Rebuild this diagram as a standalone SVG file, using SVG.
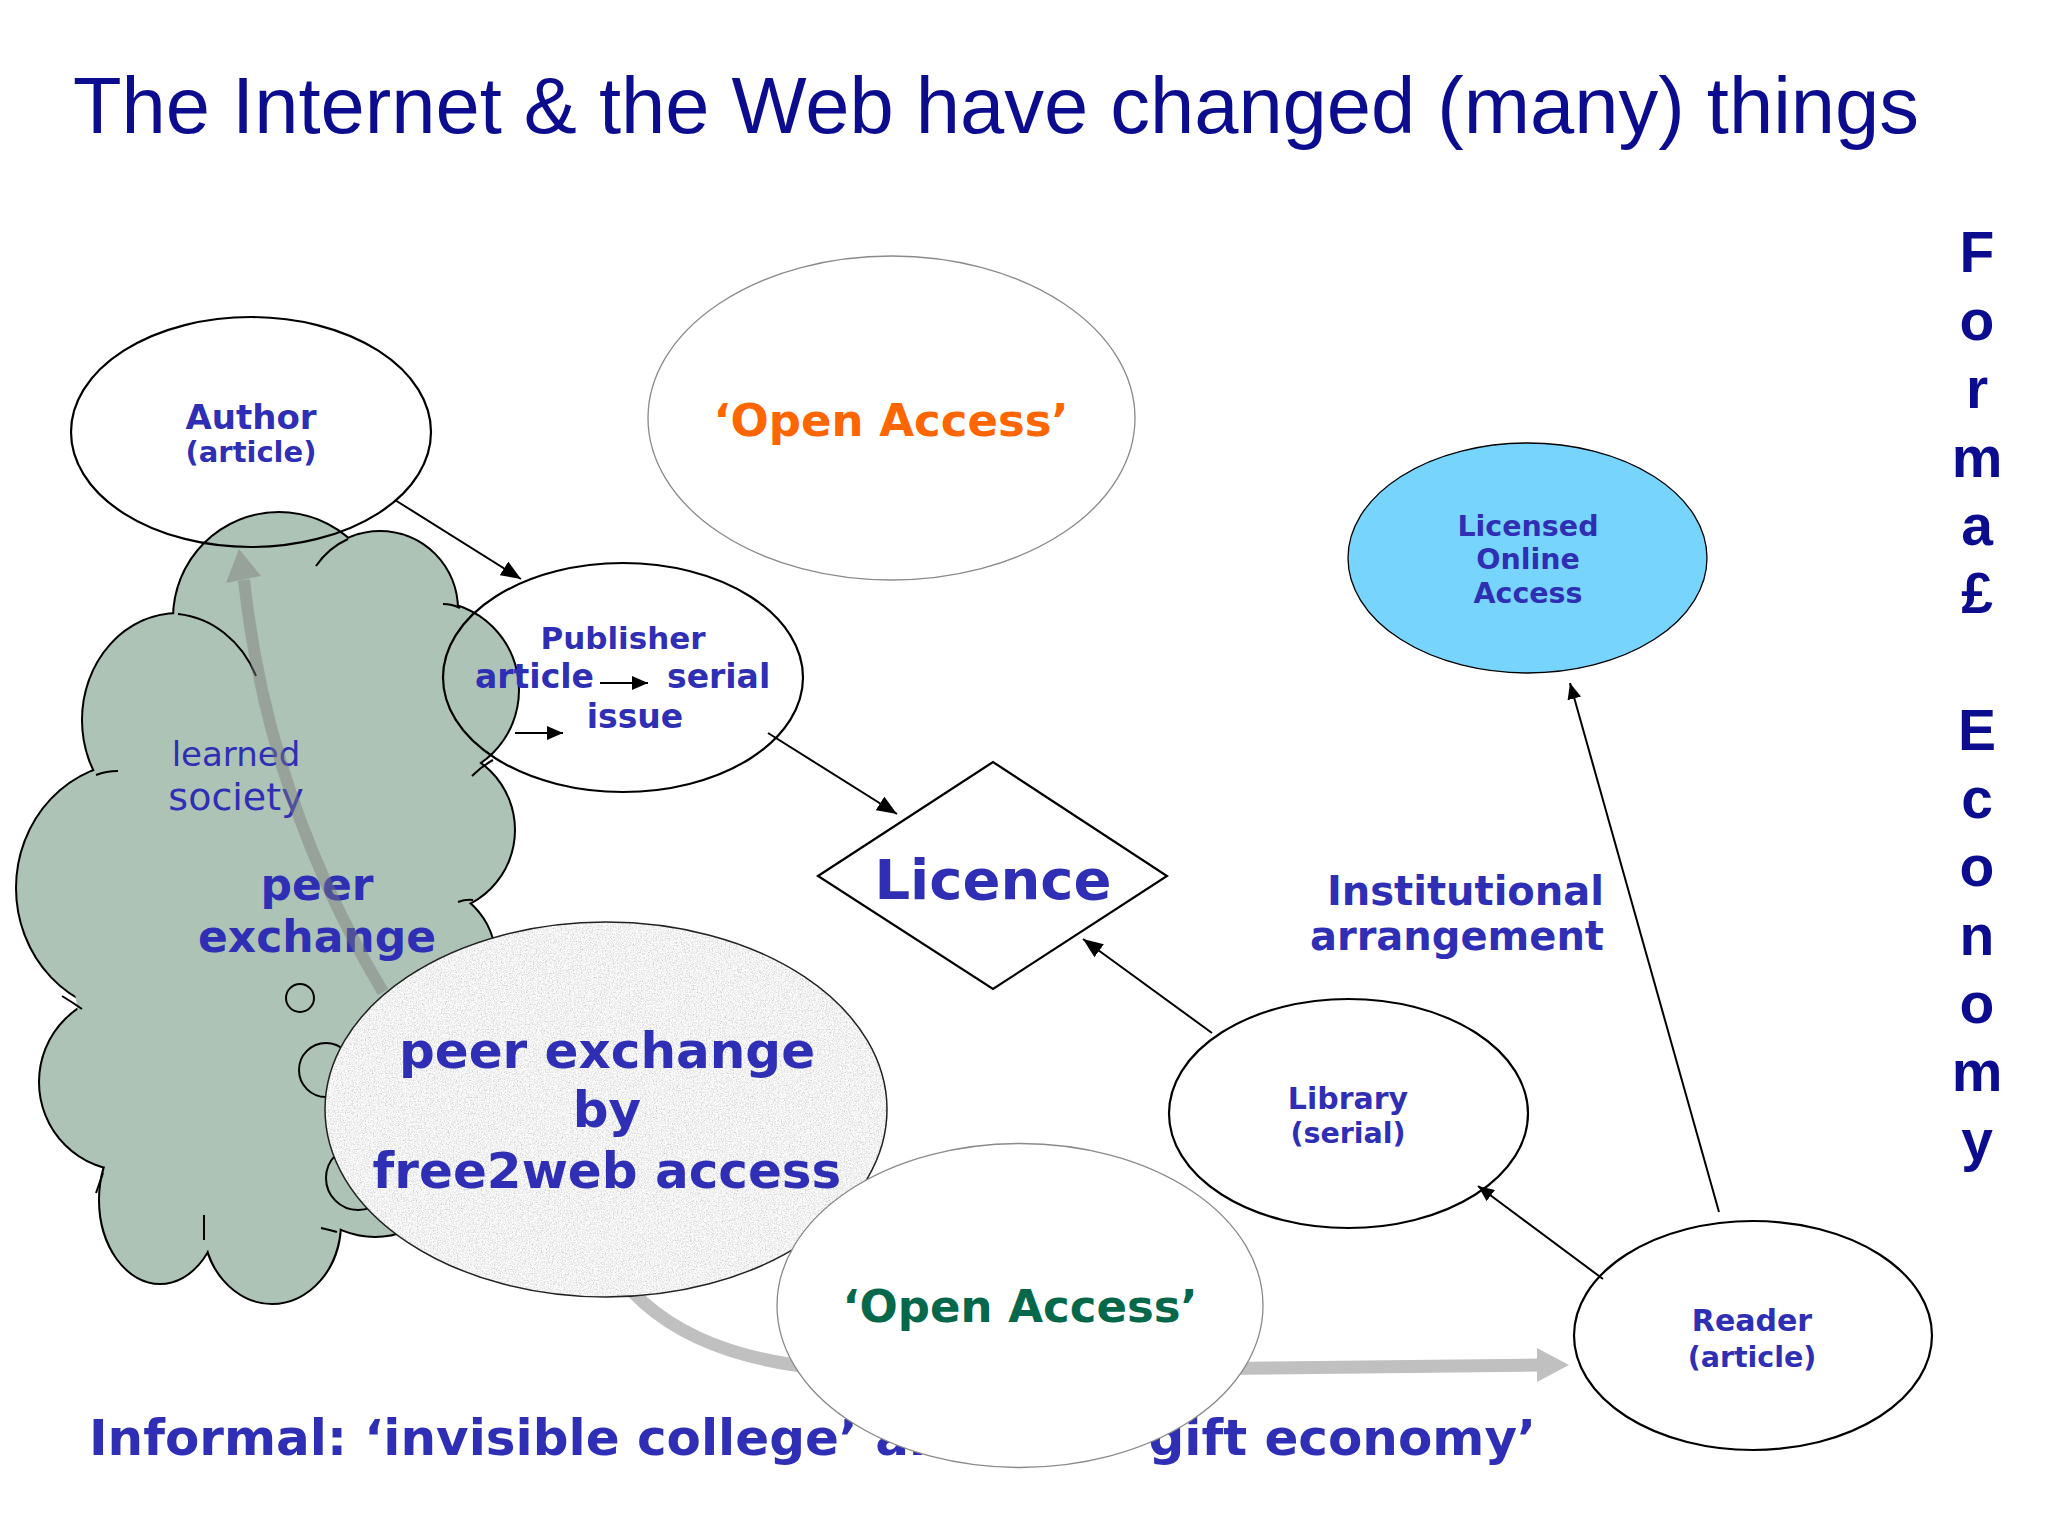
<svg xmlns="http://www.w3.org/2000/svg" width="2048" height="1536" viewBox="0 0 2048 1536">
<defs>
<style>
.t{font-family:"DejaVu Sans",Verdana,sans-serif;font-weight:bold;fill:#2f2fb5;text-anchor:middle}
.tr{font-family:"DejaVu Sans",Verdana,sans-serif;fill:#2f2fb5;text-anchor:middle}
.node{fill:none;stroke:#000;stroke-width:2.2}
.oa{fill:#fff;stroke:#8a8a8a;stroke-width:1.3}
.conn{stroke:#000;stroke-width:2;fill:none}
.inner{fill:none;stroke:#000;stroke-width:2}
.navy{font-family:"Liberation Sans",Arial,sans-serif;fill:#0c0c8f}
</style>
<marker id="ah" markerUnits="userSpaceOnUse" viewBox="0 0 20 16" refX="20" refY="8" markerWidth="20" markerHeight="16" orient="auto"><path d="M0 0 L20 8 L0 16 z" fill="#000"/></marker>
<marker id="ahs" markerUnits="userSpaceOnUse" viewBox="0 0 16 14" refX="16" refY="7" markerWidth="16" markerHeight="14" orient="auto"><path d="M0 0 L16 7 L0 14 z" fill="#000"/></marker>
<filter id="tex" x="0%" y="0%" width="100%" height="100%">
<feTurbulence type="fractalNoise" baseFrequency="0.75" numOctaves="3" seed="7"/>
<feColorMatrix type="saturate" values="0"/>
<feComponentTransfer>
<feFuncR type="linear" slope="1.1" intercept="0.34"/>
<feFuncG type="linear" slope="1.1" intercept="0.34"/>
<feFuncB type="linear" slope="1.1" intercept="0.34"/>
<feFuncA type="linear" slope="0" intercept="1"/>
</feComponentTransfer>
<feComposite in2="SourceGraphic" operator="in"/>
</filter>
<g id="lobes">
<ellipse cx="279" cy="618" rx="105" ry="105"/>
<ellipse cx="380" cy="609" rx="77" ry="77"/>
<ellipse cx="430" cy="690" rx="88" ry="88"/>
<ellipse cx="432" cy="830" rx="82" ry="82"/>
<ellipse cx="420" cy="960" rx="75" ry="75"/>
<ellipse cx="375" cy="1150" rx="85" ry="86"/>
<ellipse cx="272" cy="1223" rx="68" ry="80"/>
<ellipse cx="160" cy="1200" rx="60" ry="83"/>
<ellipse cx="128" cy="1082" rx="88" ry="88"/>
<ellipse cx="135" cy="888" rx="118" ry="125"/>
<ellipse cx="178" cy="720" rx="95" ry="106"/>
</g>
</defs>
<rect width="2048" height="1536" fill="#fff"/>
<text class="navy" x="73" y="133" font-size="80" textLength="1846" lengthAdjust="spacingAndGlyphs">The Internet &amp; the Web have changed (many) things</text>

<g id="cloud">
<use href="#lobes" fill="#adc3b5" stroke="#000" stroke-width="4"/>
<use href="#lobes" fill="#adc3b5" stroke="none"/>
<polygon points="200,600 450,620 470,900 380,1200 300,1220 210,1215 100,1150 60,900 120,700" fill="#adc3b5"/>
<path class="inner" d="M316 566 A77 77 0 0 1 348 539 M178 614 A95 106 0 0 1 256 676 M472 776 Q482 766 493 760 M443 604 Q452 604 460 608 M96 775 Q106 771 118 771 M458 902 Q466 899 473 900 M62 996 Q72 1002 82 1009 M204 1215 L204 1240 M103 1173 L96 1193 M321 1228 Q330 1230 337 1232"/>
<circle cx="300" cy="998" r="14" fill="#adc3b5" stroke="#000" stroke-width="2"/>
<circle cx="326" cy="1070" r="27" fill="#adc3b5" stroke="#000" stroke-width="2"/>
<circle cx="358" cy="1178" r="32" fill="#adc3b5" stroke="#000" stroke-width="2"/>
<text class="tr" x="236" y="766" font-size="34">learned</text>
<text class="tr" x="236" y="810" font-size="38">society</text>
<text class="t" x="317" y="900" font-size="44">peer</text>
<text class="t" x="317" y="952" font-size="44">exchange</text>
</g>

<g id="connectors-grey">
<path d="M383 992 Q268 800 244 580" fill="none" stroke="#7a7a7a" stroke-opacity="0.45" stroke-width="12"/>
<polygon points="239,549 226,583 261,576" fill="#7a7a7a" fill-opacity="0.45"/>
<path d="M622 1280 C675 1345 765 1372 900 1372 L1540 1365" fill="none" stroke="#c0c0c0" stroke-width="13"/>
<polygon points="1537,1348 1569,1365 1537,1382" fill="#c0c0c0"/>
</g>

<g id="free2web">
<ellipse cx="606" cy="1109.5" rx="281" ry="187.5" fill="#fff" filter="url(#tex)"/>
<ellipse cx="606" cy="1109.5" rx="281" ry="187.5" fill="none" stroke="#222" stroke-width="1.5"/>
<text class="t" x="607" y="1068" font-size="50">peer exchange</text>
<text class="t" x="607" y="1127" font-size="50">by</text>
<text class="t" x="607" y="1188" font-size="50">free2web access</text>
</g>

<g id="informal">
<text class="t" x="89" y="1455" font-size="50" style="text-anchor:start">Informal: ‘invisible college’ and</text>
<text class="t" x="1536" y="1455" font-size="50" style="text-anchor:end">‘gift economy’</text>
</g>

<g id="open-access-green">
<ellipse class="oa" cx="1020" cy="1305.5" rx="243" ry="162"/>
<text class="t" x="1020" y="1322" font-size="45" style="fill:#06684a">‘Open Access’</text>
</g>

<g id="author">
<ellipse class="node" cx="251" cy="432" rx="180" ry="115"/>
<text class="t" x="251" y="429" font-size="34">Author</text>
<text class="t" x="251" y="462" font-size="29">(article)</text>
</g>

<g id="publisher">
<ellipse class="node" cx="623" cy="677.5" rx="180" ry="114.5"/>
<text class="t" x="623" y="649" font-size="31">Publisher</text>
<text class="t" x="475" y="688" font-size="33" style="text-anchor:start">article</text>
<text class="t" x="667" y="688" font-size="33" style="text-anchor:start">serial</text>
<text class="t" x="635" y="728" font-size="33">issue</text>
<line class="conn" x1="600" y1="683" x2="648" y2="683" stroke-width="3" marker-end="url(#ahs)"/>
<line class="conn" x1="515" y1="733" x2="563" y2="733" stroke-width="3" marker-end="url(#ahs)"/>
</g>

<g id="open-access-orange">
<ellipse class="oa" cx="891.5" cy="418" rx="243.5" ry="162"/>
<text class="t" x="891" y="436" font-size="45" style="fill:#ff6600">‘Open Access’</text>
</g>

<g id="licence">
<polygon points="818,876 993,762 1167,876 993,989" fill="none" stroke="#000" stroke-width="2.2"/>
<text class="t" x="993" y="899" font-size="56">Licence</text>
</g>

<g id="licensed-online-access">
<ellipse cx="1527.5" cy="558" rx="179.5" ry="115" fill="#77d5fd" stroke="#000" stroke-width="1.3"/>
<text class="t" x="1528" y="536" font-size="28.5">Licensed</text>
<text class="t" x="1528" y="569" font-size="28.5">Online</text>
<text class="t" x="1528" y="603" font-size="28.5">Access</text>
</g>

<g id="library">
<ellipse class="node" cx="1348.5" cy="1113.5" rx="179.5" ry="114.5"/>
<text class="t" x="1348" y="1109" font-size="30">Library</text>
<text class="t" x="1348" y="1143" font-size="28.5">(serial)</text>
</g>

<g id="reader">
<ellipse class="node" cx="1753" cy="1335.5" rx="179" ry="114.5"/>
<text class="t" x="1752" y="1331" font-size="30">Reader</text>
<text class="t" x="1752" y="1367" font-size="28.5">(article)</text>
</g>

<g id="connectors">
<line class="conn" x1="395" y1="500" x2="521" y2="579" marker-end="url(#ah)"/>
<line class="conn" x1="768" y1="733" x2="897" y2="814" marker-end="url(#ah)"/>
<line class="conn" x1="1212" y1="1033" x2="1083" y2="939" marker-end="url(#ah)"/>
<line class="conn" x1="1603" y1="1279" x2="1478" y2="1186" marker-end="url(#ahs)"/>
<line class="conn" x1="1719" y1="1212" x2="1570" y2="683" stroke-width="1.6" marker-end="url(#ahs)"/>
</g>

<g id="institutional">
<text class="t" x="1604" y="905" font-size="40" style="text-anchor:end">Institutional</text>
<text class="t" x="1604" y="950" font-size="40" style="text-anchor:end">arrangement</text>
</g>

<text class="navy" font-size="57" font-weight="bold" text-anchor="middle">
<tspan x="1977" y="272">F</tspan><tspan x="1977" y="340">o</tspan><tspan x="1977" y="408">r</tspan><tspan x="1977" y="477">m</tspan><tspan x="1977" y="545">a</tspan><tspan x="1977" y="613">£</tspan><tspan x="1977" y="750">E</tspan><tspan x="1977" y="818">c</tspan><tspan x="1977" y="886">o</tspan><tspan x="1977" y="955">n</tspan><tspan x="1977" y="1023">o</tspan><tspan x="1977" y="1091">m</tspan><tspan x="1977" y="1160">y</tspan>
</text>
</svg>
